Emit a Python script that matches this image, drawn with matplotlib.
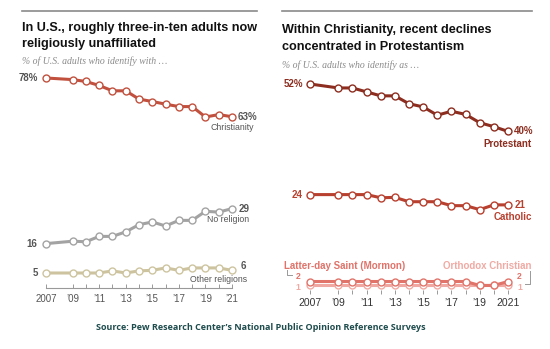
import matplotlib
matplotlib.use("Agg")
import matplotlib.pyplot as plt

W, H = 550, 349

years = [2007, 2009, 2010, 2011, 2012, 2013, 2014, 2015, 2016, 2017, 2018, 2019, 2020, 2021]
christianity = [78, 77.4, 76.7, 75.2, 73.2, 73.2, 70.1, 69.2, 68.2, 67.3, 67.3, 63.4, 64.3, 63.5]
no_religion = [16, 16.9, 16.7, 18.7, 18.7, 20.4, 23.1, 24.1, 22.6, 24.7, 24.7, 28.1, 27.8, 29.1]
other_religions = [5, 5, 5, 5, 5.8, 5, 5.8, 6, 6.9, 6, 6.9, 6.9, 6.9, 6]
protestant = [52, 51, 51, 50, 49, 49, 47, 46.2, 44.1, 45.1, 44.3, 42.2, 41.2, 40]
catholic = [24, 24, 24, 24, 23.2, 23.3, 22.2, 22.2, 22.2, 21.2, 21.2, 20.2, 21.4, 21.4]
mormon = [2, 2, 2, 2, 2, 2, 2, 2, 2, 2, 2, 1, 1, 2]
orthodox = [1, 1, 1, 1, 1, 1, 1, 1, 1, 1, 1, 1, 1, 1]

left_ticks = [2007, 2009, 2011, 2013, 2015, 2017, 2019, 2021]
left_ticklabels = ["2007", "\u201909", "\u201911", "\u201913", "\u201915", "\u201917", "\u201919", "\u201921"]
right_ticklabels = ["2007", "\u201909", "\u201911", "\u201913", "\u201915", "\u201917", "\u201919", "2021"]

TITLE_FONT = "Liberation Sans"
SANS = "Liberation Sans"
SERIF = "Liberation Serif"

C_CHR = "#c1513e"
C_NOREL = "#a3a3a3"
C_OTH = "#cdc49f"
C_PROT = "#8c2d1f"
C_CATH = "#b8402f"
C_MOR = "#e0736a"
C_ORTH = "#f0aaa3"
GRAY_TXT = "#555555"

fig = plt.figure(figsize=(W / 100, H / 100), dpi=100)


def axes_px(left, top, right, bottom):
    return fig.add_axes([left / W, 1 - bottom / H, (right - left) / W, (bottom - top) / H])


def ftext(x, y, s, **kw):
    fig.text(x / W, 1 - y / H, s, **kw)


def hline(x0, x1, y, **kw):
    fig.add_artist(plt.Line2D([x0 / W, x1 / W], [1 - y / H, 1 - y / H], transform=fig.transFigure, **kw))


# Top rules
hline(22, 257, 11, color="#8a8a8a", lw=1.2)
hline(282, 532, 11, color="#8a8a8a", lw=1.2)

# Titles
tkw = dict(fontfamily=TITLE_FONT, fontweight="bold", fontsize=9.1, color="#111111", va="baseline")
ftext(22, 31, "In U.S., roughly three-in-ten adults now", **tkw)
ftext(22, 46.5, "religiously unaffiliated", **tkw)
ftext(282, 33, "Within Christianity, recent declines", **tkw)
ftext(282, 49.5, "concentrated in Protestantism", **tkw)
skw = dict(fontfamily=SERIF, style="italic", fontsize=7, color="#8a8a8a", va="center")
ftext(22, 61, "% of U.S. adults who identify with \u2026", **skw)
ftext(282, 65, "% of U.S. adults who identify as \u2026", **skw)

# Source
ftext(261, 328, "Source: Pew Research Center\u2019s National Public Opinion Reference Surveys",
      fontfamily="Open Sans", fontweight="bold", fontsize=6.5, color="#1f4c4d", ha="center", va="center")


def series(ax, y, color, z=3):
    ax.plot(years, y, color=color, lw=2.2, marker="o", ms=5, mfc="white", mec=color, mew=1.0,
            clip_on=False, zorder=z, solid_capstyle="round")


def ann(ax, x, y, s, dx, dy, ha="left", color=GRAY_TXT, bold=True, size=7, family=SANS):
    ax.annotate(s, (x, y), xytext=(dx, dy), textcoords="offset points", ha=ha, va="center",
                fontsize=size, color=color, fontweight="bold" if bold else "normal",
                fontfamily=family, annotation_clip=False)


# ---------------- Left panel ----------------
slope_l = (273 - 78) / (78 - 5)
ybot_l = 5 - (288 - 273) / slope_l
axL = axes_px(46, 78, 232, 288)
axL.set_xlim(2007, 2021)
axL.set_ylim(ybot_l, 78)
for s in ["top", "right", "left"]:
    axL.spines[s].set_visible(False)
axL.spines["bottom"].set_color("#999999")
axL.spines["bottom"].set_linewidth(0.8)
axL.set_yticks([])
axL.set_xticks(years, minor=True)
axL.set_xticks(left_ticks)
axL.set_xticklabels(left_ticklabels, fontfamily=SANS, fontsize=7, color=GRAY_TXT)
axL.tick_params(axis="x", which="both", direction="in", length=3, width=0.7, color="#999999", pad=4)
axL.patch.set_alpha(0)

series(axL, other_religions, C_OTH)
series(axL, no_religion, C_NOREL)
series(axL, christianity, C_CHR)

ann(axL, years[0], christianity[0], "78%", -6, 0, ha="right")
ann(axL, years[-1], christianity[-1], "63%", 4, -0.5)
ann(axL, years[-1], christianity[-1], "Christianity", 15.5, -8, ha="right", bold=False, size=6.3)
ann(axL, years[0], no_religion[0], "16", -6, 0, ha="right")
ann(axL, years[-1], no_religion[-1], "29", 5, 0)
ann(axL, years[-1], no_religion[-1], "No religion", 12.5, -8, ha="right", bold=False, size=6.3)
ann(axL, years[0], other_religions[0], "5", -6, 0, ha="right")
ann(axL, years[-1], other_religions[-1], "6", 6, 3)
ann(axL, years[-1], other_religions[-1], "Other religions", 11, -6.5, ha="right", bold=False, size=6.3)

# ---------------- Right panel ----------------
slope_r = 3.95
ybot_r = 52 - (290 - 84) / slope_r
axR = axes_px(310, 84, 508, 290)
axR.set_xlim(2007, 2021)
axR.set_ylim(ybot_r, 52)
for s in ["top", "right", "left", "bottom"]:
    axR.spines[s].set_visible(False)
axR.set_yticks([])
axR.set_xticks(years, minor=True)
axR.set_xticks(left_ticks)
axR.set_xticklabels(right_ticklabels, fontfamily=SANS, fontsize=7.5, color="#333333")
axR.tick_params(axis="x", which="both", direction="out", length=3, width=0.7, color="#999999", pad=2.5)
axR.patch.set_alpha(0)

series(axR, orthodox, C_ORTH, z=3)
series(axR, mormon, C_MOR, z=4)
series(axR, catholic, C_CATH)
series(axR, protestant, C_PROT)

ann(axR, years[0], protestant[0], "52%", -5, 0, ha="right", color=C_PROT)
ann(axR, years[-1], protestant[-1], "40%", 4, 0, color=C_PROT)
ann(axR, years[-1], protestant[-1], "Protestant", 17, -9, ha="right", color=C_PROT)
ann(axR, years[0], catholic[0], "24", -5, 0, ha="right", color=C_CATH)
ann(axR, years[-1], catholic[-1], "21", 5, 0, color=C_CATH)
ann(axR, years[-1], catholic[-1], "Catholic", 17, -9, ha="right", color=C_CATH)

ann(axR, years[0], mormon[0], "2", -7, 3.5, ha="right", color=C_MOR, size=6.2)
ann(axR, years[0], orthodox[0], "1", -7, -1.5, ha="right", color=C_ORTH, size=6.2)
ann(axR, years[-1], mormon[-1], "2", 6.5, 3.5, color=C_MOR, size=6.2)
ann(axR, years[-1], orthodox[-1], "1", 6.5, -1.5, color=C_ORTH, size=6.2)
ann(axR, years[0], mormon[0], "Latter-day Saint (Mormon)", -19, 11, color=C_MOR)
ann(axR, years[-1], mormon[-1], "Orthodox Christian", 17, 11, ha="right", color=C_ORTH)

# bracket marks
fig.add_artist(plt.Line2D([287 / W, 287 / W, 292 / W], [1 - 270 / H, 1 - 275 / H, 1 - 275 / H],
                          transform=fig.transFigure, color="#999999", lw=0.7))
fig.add_artist(plt.Line2D([525 / W, 530 / W, 530 / W], [1 - 284 / H, 1 - 284 / H, 1 - 271 / H],
                          transform=fig.transFigure, color="#999999", lw=0.7))

fig.savefig("out.png", dpi=100)
